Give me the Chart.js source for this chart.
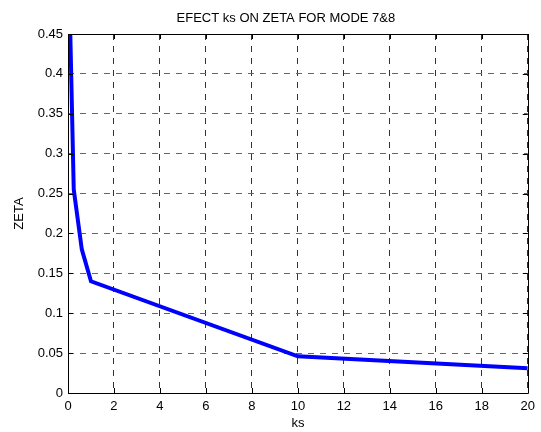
<!DOCTYPE html>
<html>
<head>
<meta charset="utf-8">
<script src="https://cdn.jsdelivr.net/npm/chart.js@4/dist/chart.umd.min.js"></script>
<style>
  html, body { margin: 0; padding: 0; background: #fff; }
  #wrap { width: 541px; height: 432px; }
</style>
</head>
<body>
<div id="wrap"><canvas id="c" width="541" height="432"></canvas></div>
<script>
const chartTitle = 'EFECT ks ON ZETA FOR MODE 7&8';
const xLabel = 'ks';
const yLabel = 'ZETA';
const ksValues = [0.1, 0.25, 0.6, 1, 10, 20];
const zetaValues = [0.45, 0.255, 0.18, 0.14, 0.046, 0.031];
const xTicks = [0, 2, 4, 6, 8, 10, 12, 14, 16, 18, 20];
const yTicks = [0, 0.05, 0.1, 0.15, 0.2, 0.25, 0.3, 0.35, 0.4, 0.45];
const yTickLabels = ['0', '0.05', '0.1', '0.15', '0.2', '0.25', '0.3', '0.35', '0.4', '0.45'];

const FONT = 'Arial, "Liberation Sans", Helvetica, sans-serif';
Chart.defaults.font.family = FONT;
Chart.defaults.font.size = 13;
Chart.defaults.color = '#000';

const points = ksValues.map((x, i) => ({ x: x, y: zetaValues[i] }));

const boxPlugin = {
  id: 'boxPlugin',
  afterDraw(chart) {
    const { ctx, chartArea: a, scales } = chart;
    const xs = scales.x, ys = scales.y;
    ctx.save();
    ctx.strokeStyle = '#000';
    ctx.lineWidth = 1;
    ctx.setLineDash([]);
    ctx.beginPath();
    ctx.rect(Math.round(a.left) + 0.5, Math.round(a.top) + 0.5,
             Math.round(a.right) - Math.round(a.left), Math.round(a.bottom) - Math.round(a.top));
    ctx.stroke();
    const tl = 5;
    ctx.beginPath();
    xTicks.forEach(v => {
      const px = Math.round(xs.getPixelForValue(v)) + 0.5;
      ctx.moveTo(px, a.bottom); ctx.lineTo(px, a.bottom - tl);
      ctx.moveTo(px, a.top); ctx.lineTo(px, a.top + tl);
    });
    yTicks.forEach(v => {
      const py = Math.round(ys.getPixelForValue(v)) + 0.5;
      ctx.moveTo(a.left, py); ctx.lineTo(a.left + tl, py);
      ctx.moveTo(a.right, py); ctx.lineTo(a.right - tl, py);
    });
    ctx.stroke();
    // title
    ctx.fillStyle = '#000';
    ctx.font = '13px ' + FONT;
    ctx.textAlign = 'center';
    ctx.textBaseline = 'middle';
    ctx.fillText(chartTitle, (a.left + a.right) / 2 - 12, 18);
    ctx.restore();
  }
};

new Chart(document.getElementById('c'), {
  type: 'line',
  data: {
    datasets: [{
      data: points,
      borderColor: '#0000ff',
      borderWidth: 4,
      pointRadius: 0,
      tension: 0,
      fill: false
    }]
  },
  options: {
    responsive: false,
    animation: false,
    devicePixelRatio: 1,
    layout: { padding: { top: 34, right: 10, left: 0, bottom: 0 } },
    plugins: { legend: { display: false }, tooltip: { enabled: false }, title: { display: false } },
    scales: {
      x: {
        type: 'linear',
        min: 0, max: 20,
        afterFit(s) { s.height = 39; },
        afterBuildTicks(s) { s.ticks = xTicks.map(v => ({ value: v })); },
        ticks: { padding: 6, maxRotation: 0, autoSkip: false, callback: v => String(v) },
        grid: { color: '#333', lineWidth: 1, drawTicks: false },
        border: { display: false, dash: [6, 6] },
        title: { display: true, text: xLabel, padding: { top: 0, bottom: 1 }, font: { size: 13 } }
      },
      y: {
        type: 'linear',
        min: 0, max: 0.45,
        afterFit(s) { s.width = 68; },
        afterBuildTicks(s) { s.ticks = yTicks.map(v => ({ value: v })); },
        ticks: {
          padding: 5, autoSkip: false,
          callback: (v) => { const i = yTicks.findIndex(t => Math.abs(t - v) < 1e-9); return i >= 0 ? yTickLabels[i] : ''; }
        },
        grid: { color: '#666', lineWidth: 1, drawTicks: false },
        border: { display: false, dash: [6, 6] },
        title: { display: true, text: yLabel, padding: { top: 12, bottom: 0 }, font: { size: 13 } }
      }
    }
  },
  plugins: [boxPlugin]
});
</script>
</body>
</html>
